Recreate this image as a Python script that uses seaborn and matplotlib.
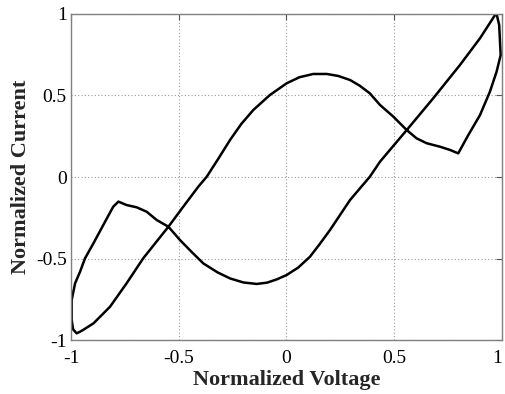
import matplotlib
matplotlib.use("Agg")
import matplotlib.pyplot as plt
import seaborn as sns
import pandas as pd

# Hysteresis loop of normalized current vs. normalized voltage (closed path)
voltage = [0.975, 0.987, 0.994, 0.975, 0.944, 0.898, 0.844, 0.797, 0.759, 0.712,
           0.651, 0.604, 0.558, 0.496, 0.434, 0.387, 0.340, 0.295, 0.240, 0.187,
           0.124, 0.060, 0.001, -0.077, -0.154, -0.210, -0.262, -0.315, -0.370,
           -0.409, -0.479, -0.548, -0.665, -0.742, -0.819, -0.896, -0.940, -0.958,
           -0.974, -0.990, -0.997, -0.997, -0.981, -0.958, -0.935, -0.896, -0.850,
           -0.804, -0.780, -0.742, -0.695, -0.649, -0.602, -0.548, -0.494, -0.440,
           -0.386, -0.320, -0.262, -0.200, -0.138, -0.090, -0.045, 0.001, 0.055,
           0.109, 0.155, 0.202, 0.250, 0.295, 0.387, 0.434, 0.480, 0.558, 0.681,
           0.805, 0.898, 0.968, 0.975]
current = [1.000, 0.933, 0.748, 0.646, 0.523, 0.380, 0.258, 0.145, 0.166, 0.186,
           0.207, 0.237, 0.288, 0.370, 0.442, 0.513, 0.560, 0.595, 0.620, 0.632,
           0.632, 0.612, 0.575, 0.503, 0.411, 0.325, 0.227, 0.115, 0.002,
           -0.059, -0.182, -0.305, -0.499, -0.652, -0.796, -0.898, -0.935, -0.949,
           -0.959, -0.935, -0.877, -0.755, -0.652, -0.581, -0.499, -0.407, -0.294,
           -0.182, -0.151, -0.172, -0.186, -0.213, -0.264, -0.305, -0.387, -0.460,
           -0.530, -0.585, -0.622, -0.647, -0.656, -0.648, -0.628, -0.601, -0.555,
           -0.489, -0.410, -0.325, -0.230, -0.141, 0.002, 0.094, 0.166, 0.288, 0.483,
           0.687, 0.851, 0.994, 1.000]

ticks = [-1, -0.5, 0, 0.5, 1]
tick_labels = ["-1", "-0.5", "0", "0.5", "1"]

df = pd.DataFrame({"Normalized Voltage": voltage, "Normalized Current": current})

sns.set_style("white")
plt.rcParams["font.family"] = ["Liberation Serif", "DejaVu Serif"]

fig = plt.figure(figsize=(5.05, 3.94), dpi=100)
ax = fig.add_axes([0.1406, 0.137, 0.8534, 0.8275])

sns.lineplot(data=df, x="Normalized Voltage", y="Normalized Current", sort=False,
             estimator=None, color="black", linewidth=1.8, ax=ax)

ax.set_xlim(-1, 1)
ax.set_ylim(-1, 1)
ax.set_xticks(ticks)
ax.set_xticklabels(tick_labels)
ax.set_yticks(ticks)
ax.set_yticklabels(tick_labels)
ax.grid(True, linestyle=(0, (1, 2)), color="#9a9a9a", linewidth=0.8)
ax.tick_params(direction="in", length=4, width=0.8, color="#555555",
               top=True, right=True, labelsize=14, labelcolor="black")
ax.tick_params(axis="x", pad=7)
ax.tick_params(axis="y", pad=3)
# keep the last x tick label inside the figure edge
ax.get_xticklabels()[-1].set_horizontalalignment("right")
for s in ax.spines.values():
    s.set_color("#808080")
    s.set_linewidth(1.0)

ax.set_xlabel("Normalized Voltage", fontsize=16, fontweight="bold", labelpad=2)
ax.set_ylabel("Normalized Current", fontsize=16, fontweight="bold", labelpad=4)

fig.savefig("out.png", dpi=100, facecolor="white")
